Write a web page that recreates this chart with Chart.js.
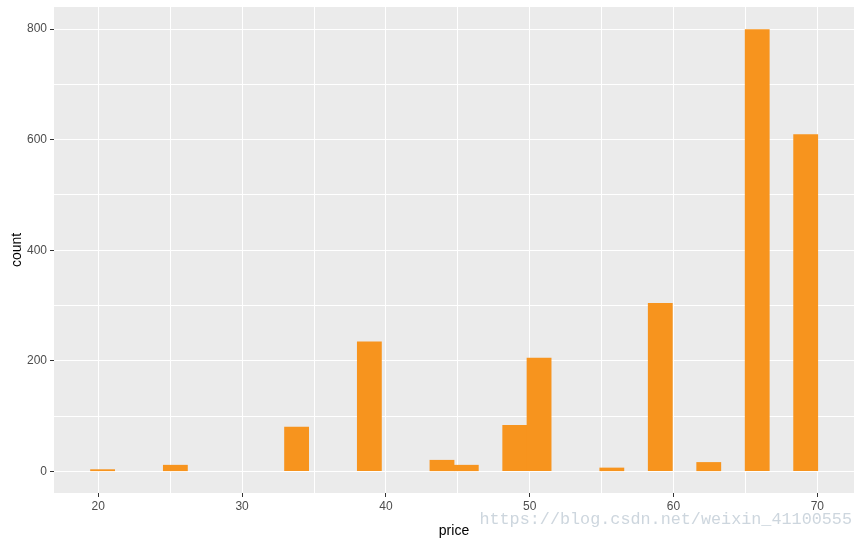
<!DOCTYPE html>
<html>
<head>
<meta charset="utf-8">
<script src="https://cdn.jsdelivr.net/npm/chart.js@4/dist/chart.umd.min.js"></script>
<style>
html, body { margin: 0; padding: 0; background: #fff; }
#wrap { width: 862px; height: 540px; }
</style>
</head>
<body>
<div id="wrap"><canvas id="chart1"></canvas></div>
<script>
// histogram bins (30 bins, width ~1.686)
const binCenters = [
    20.30, 21.99, 23.67, 25.36, 27.04, 28.73, 30.42, 32.10, 33.79, 35.47,
    37.16, 38.85, 40.53, 42.22, 43.90, 45.59, 47.28, 48.96, 50.65, 52.33,
    54.02, 55.71, 57.39, 59.08, 60.76, 62.45, 64.14, 65.82, 67.51, 69.19
];
const counts = [
    3, 0, 0, 11, 0, 0, 0, 0, 80, 0,
    0, 234, 0, 0, 20, 11, 0, 83, 205, 0,
    0, 6, 0, 304, 0, 16, 0, 799, 0, 609
];
const xTicks = [20, 25, 30, 35, 40, 45, 50, 55, 60, 65, 70];
const xLabels = [20, 30, 40, 50, 60, 70];
const yTicks = [0, 100, 200, 300, 400, 500, 600, 700, 800];
const yLabels = [0, 200, 400, 600, 800];

const panelBg = {
    id: 'panelBg',
    beforeDraw(chart) {
        const a = chart.chartArea;
        const c = chart.ctx;
        c.save();
        c.fillStyle = '#EBEBEB';
        c.fillRect(a.left, a.top, a.right - a.left, a.bottom - a.top);
        c.restore();
    }
};

const watermark = {
    id: 'watermark',
    afterDraw(chart) {
        const c = chart.ctx;
        c.save();
        c.font = '16.8px "Liberation Mono", monospace';
        c.fillStyle = 'rgba(200,210,218,0.9)';
        c.textBaseline = 'middle';
        c.textAlign = 'right';
        c.fillText('https://blog.csdn.net/weixin_41100555', 852, 520);
        c.restore();
    }
};

const tickCol = (list) => (ctx) =>
    list.includes(ctx.tick.value) ? '#333333' : 'rgba(0,0,0,0)';

const ctx = document.getElementById('chart1');
new Chart(ctx, {
    type: 'bar',
    data: {
        datasets: [{
            data: binCenters.map((x, i) => ({ x: x, y: counts[i] || null })),
            backgroundColor: '#F7941E',
            borderWidth: 0,
            barPercentage: 1,
            categoryPercentage: 1
        }]
    },
    options: {
        responsive: true,
        maintainAspectRatio: false,
        animation: false,
        layout: { padding: { top: 7, right: 8, left: 0, bottom: 0 } },
        plugins: {
            legend: { display: false },
            tooltip: { enabled: false }
        },
        scales: {
            x: {
                type: 'linear',
                min: 16.92,
                max: 72.55,
                offset: false,
                afterBuildTicks: (s) => { s.ticks = xTicks.map(v => ({ value: v })); },
                afterFit: (s) => {
                    s.height = 47;
                    s.paddingLeft = 0;
                    s.paddingRight = 0;
                },
                ticks: {
                    autoSkip: false,
                    maxRotation: 0,
                    padding: 2,
                    color: '#4D4D4D',
                    font: { family: 'Liberation Sans', size: 12 },
                    callback: (v) => xLabels.includes(v) ? String(v) : ''
                },
                grid: {
                    offset: false,
                    color: '#FFFFFF',
                    lineWidth: 1,
                    tickColor: tickCol(xLabels),
                    tickLength: 4,
                    tickWidth: 1
                },
                border: { display: false },
                title: {
                    display: true,
                    text: 'price',
                    color: '#000000',
                    font: { family: 'Liberation Sans', size: 14 },
                    padding: { top: 2, bottom: 0 }
                }
            },
            y: {
                min: -39.3,
                max: 840,
                afterBuildTicks: (s) => { s.ticks = yTicks.map(v => ({ value: v })); },
                afterFit: (s) => {
                    s.width = 54;
                    s.paddingTop = 0;
                    s.paddingBottom = 0;
                },
                ticks: {
                    padding: 3,
                    color: '#4D4D4D',
                    font: { family: 'Liberation Sans', size: 12 },
                    callback: (v) => yLabels.includes(v) ? String(v) : ''
                },
                grid: {
                    color: '#FFFFFF',
                    lineWidth: 1,
                    tickColor: tickCol(yLabels),
                    tickLength: 4,
                    tickWidth: 1
                },
                border: { display: false },
                title: {
                    display: true,
                    text: 'count',
                    color: '#000000',
                    font: { family: 'Liberation Sans', size: 14 },
                    padding: { top: 9, bottom: 0 }
                }
            }
        }
    },
    plugins: [panelBg, watermark]
});
</script>
</body>
</html>
